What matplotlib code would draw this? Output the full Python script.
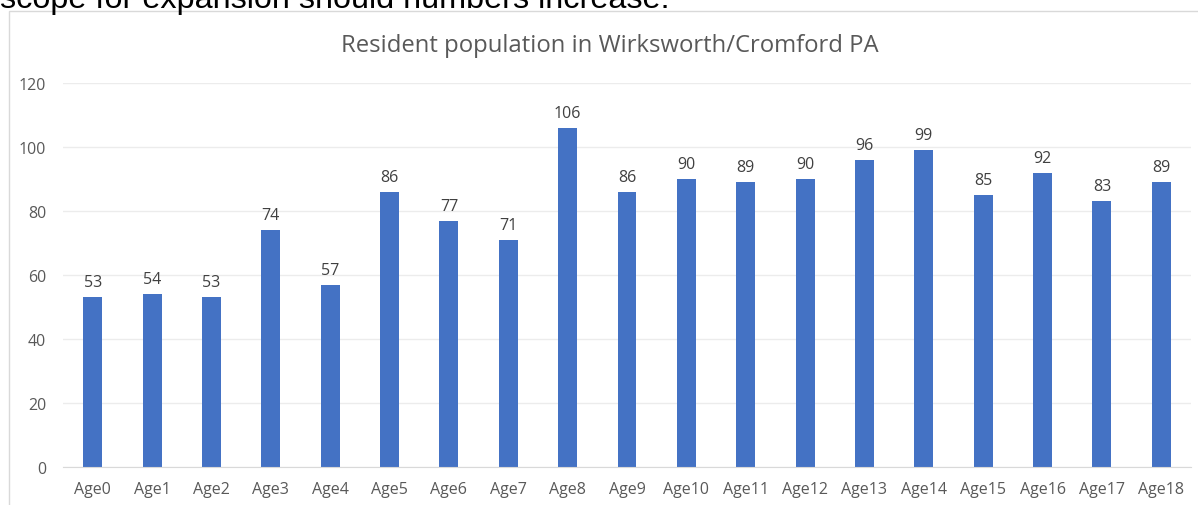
import matplotlib
matplotlib.use("Agg")
import matplotlib.pyplot as plt
from matplotlib.patches import Rectangle

categories = ["Age0", "Age1", "Age2", "Age3", "Age4", "Age5", "Age6", "Age7", "Age8", "Age9",
              "Age10", "Age11", "Age12", "Age13", "Age14", "Age15", "Age16", "Age17", "Age18"]
values = [53, 54, 53, 74, 57, 86, 77, 71, 106, 86, 90, 89, 90, 96, 99, 85, 92, 83, 89]
yticks = [0, 20, 40, 60, 80, 100, 120]
title = "Resident population in Wirksworth/Cromford PA"
page_text = "scope for expansion should numbers increase."

W, H = 1198, 506
fig = plt.figure(figsize=(W / 100, H / 100), dpi=100)

# chart frame (cut by the page edges)
fig.patches.append(Rectangle((9 / W, -0.1), 1.2, 1 - 12 / H + 0.1, transform=fig.transFigure,
                             fill=False, edgecolor="#d9d9d9", linewidth=1.0))
# surrounding document text, cut at the top
fig.text(0.0, 1 - 8 / H, page_text, fontsize=23.3, family="Liberation Sans",
         color="black", ha="left", va="baseline")

ax = fig.add_axes([63 / W, 1 - 468 / H, (1191 - 63) / W, (468 - 84) / H])
x = range(len(categories))
bars = ax.bar(x, values, width=0.32, color="#4472c4", zorder=3)

ax.set_xlim(-0.5, len(categories) - 0.5)
ax.set_ylim(0, 120)
ax.set_yticks(yticks)
ax.set_xticks(list(x))
ax.set_xticklabels(categories)

font = "Open Sans"
for lab in ax.get_xticklabels() + ax.get_yticklabels():
    lab.set_family(font)
    lab.set_fontsize(11.5)
    lab.set_color("#595959")

ax.tick_params(length=0)
ax.tick_params(axis="x", pad=10)
ax.tick_params(axis="y", pad=12)
ax.grid(axis="y", color="#ececec", linewidth=1.0, zorder=0)
for s in ["top", "right", "left"]:
    ax.spines[s].set_visible(False)
ax.spines["bottom"].set_color("#d9d9d9")
ax.spines["bottom"].set_zorder(4)

for b, v in zip(bars, values):
    ax.annotate(str(v), (b.get_x() + b.get_width() / 2, v), xytext=(0, 5),
                textcoords="offset points", ha="center", va="bottom",
                fontsize=11.5, family=font, color="#404040")

fig.text(610 / W, 1 - 46 / H, title, fontsize=17.2, family=font, color="#595959",
         ha="center", va="center")

fig.savefig("out.png", dpi=100)
